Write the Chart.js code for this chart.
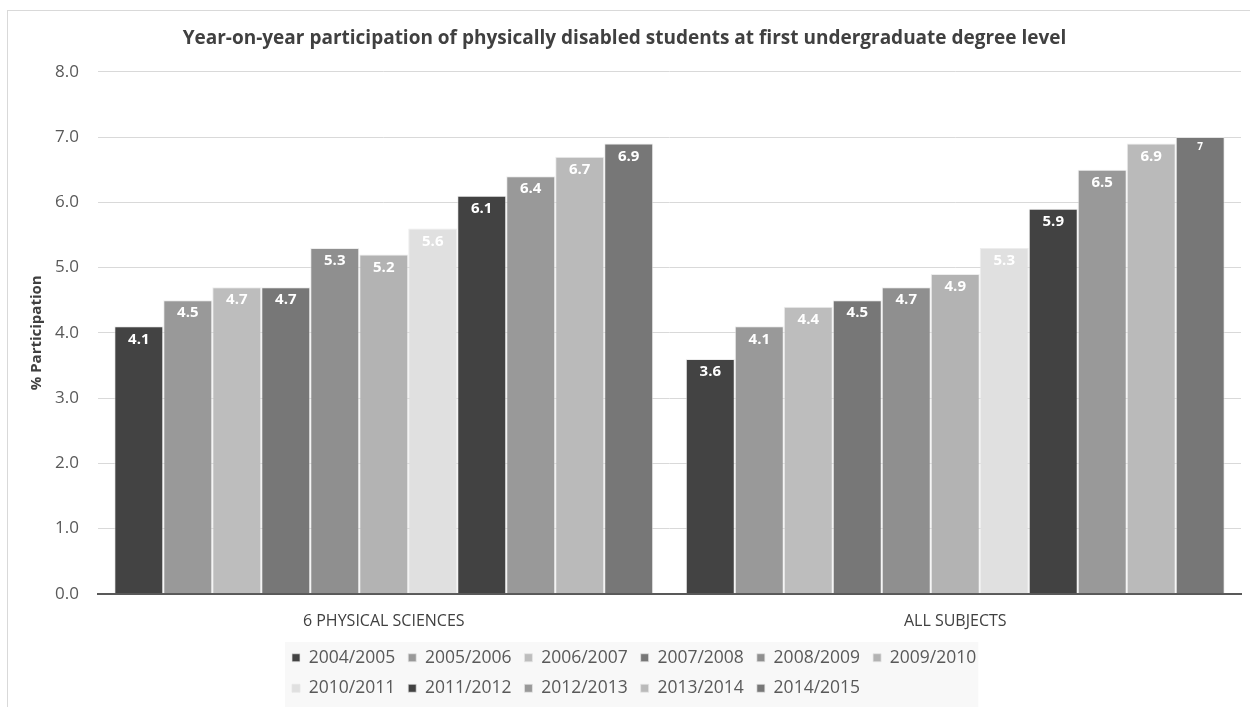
<!DOCTYPE html>
<html>
<head>
<meta charset="utf-8">
<script src="https://cdn.jsdelivr.net/npm/chart.js@4"></script>
<style>
  body { margin: 0; background: #fff; }
  #wrap { width: 1250px; height: 707px; }
</style>
</head>
<body>
<div id="wrap"><canvas id="chart"></canvas></div>
<script>
const categories = ['6 PHYSICAL SCIENCES', 'ALL SUBJECTS'];
const years = ['2004/2005', '2005/2006', '2006/2007', '2007/2008', '2008/2009', '2009/2010',
               '2010/2011', '2011/2012', '2012/2013', '2013/2014', '2014/2015'];
const physicalSciences = [4.1, 4.5, 4.7, 4.7, 5.3, 5.2, 5.6, 6.1, 6.4, 6.7, 6.9];
const allSubjects = [3.6, 4.1, 4.4, 4.5, 4.7, 4.9, 5.3, 5.9, 6.5, 6.9, 7];
const yTicks = [0, 1, 2, 3, 4, 5, 6, 7, 8];
const greys = ['#434343', '#999999', '#bdbdbd', '#777777', '#8f8f8f', '#b3b3b3',
               '#e0e0e0', '#424242', '#999999', '#bababa', '#777777'];

const FONT = "'Open Sans', sans-serif";
const LEGEND_WIDTH = 740;
const LEGEND_LEFT = 279;

// outer frame + legend background, and keep the legend to two rows
const frame = {
    id: 'frame',
    beforeLayout(chart) {
        const lg = chart.legend;
        if (lg && !lg._narrow) {
            const orig = lg.update;
            lg.update = function (maxWidth, maxHeight, margins) {
                return orig.call(this, Math.min(maxWidth, LEGEND_WIDTH), maxHeight, margins);
            };
            lg._narrow = true;
        }
    },
    afterLayout(chart) {
        const lg = chart.legend;
        lg.left = LEGEND_LEFT;
        lg.right = lg.left + LEGEND_WIDTH;
        lg.width = LEGEND_WIDTH;
    },
    beforeDraw(chart) {
        const ctx = chart.ctx;
        ctx.save();
        ctx.strokeStyle = '#d9d9d9';
        ctx.lineWidth = 1;
        ctx.strokeRect(7.5, 10.5, 1260, 720);
        const boxes = chart.legend.legendHitBoxes;
        if (boxes && boxes.length) {
            let l = Infinity, r = -Infinity, t = Infinity;
            boxes.forEach(h => {
                l = Math.min(l, h.left); r = Math.max(r, h.left + h.width);
                t = Math.min(t, h.top);
            });
            ctx.fillStyle = '#f8f8f8';
            ctx.fillRect(l - 7, t - 7, r - l + 9, chart.height - t + 7);
        }
        ctx.restore();
    }
};

// value labels inside the top of each bar
const barLabels = {
    id: 'barLabels',
    afterDatasetsDraw(chart) {
        const ctx = chart.ctx;
        ctx.save();
        ctx.textAlign = 'center';
        ctx.textBaseline = 'middle';
        ctx.fillStyle = '#ffffff';
        chart.data.datasets.forEach((ds, i) => {
            chart.getDatasetMeta(i).data.forEach((bar, j) => {
                const v = ds.data[j];
                const small = Number.isInteger(v);
                ctx.font = (small ? 'bold 10px ' : 'bold 15px ') + FONT;
                ctx.fillText(String(v), bar.x, bar.y + (small ? 10 : 13));
            });
        });
        ctx.restore();
    }
};

const datasets = years.map((y, i) => ({
    label: y,
    data: [physicalSciences[i], allSubjects[i]],
    backgroundColor: greys[i],
    borderColor: 'rgba(230,230,230,0.7)',
    borderWidth: 1,
    categoryPercentage: 0.943,
    barPercentage: 1
}));

new Chart(document.getElementById('chart'), {
    type: 'bar',
    data: { labels: categories, datasets: datasets },
    plugins: [frame, barLabels],
    options: {
        responsive: true,
        maintainAspectRatio: false,
        animation: false,
        layout: { padding: { left: 8, right: 9, top: 10, bottom: 0 } },
        plugins: {
            title: {
                display: true,
                text: 'Year-on-year participation of physically disabled students at first undergraduate degree level',
                color: '#404040',
                font: { family: FONT, size: 19, weight: 'bold' },
                padding: { top: 17, bottom: 22 }
            },
            legend: {
                position: 'bottom',
                align: 'start',
                labels: {
                    color: '#595959',
                    font: { family: FONT, size: 17.5 },
                    boxWidth: 8,
                    boxHeight: 8,
                    padding: 13
                }
            },
            tooltip: { enabled: false }
        },
        scales: {
            x: {
                afterFit: s => { s.height = s.height - 13; },
                grid: { display: false, drawTicks: false },
                border: { color: '#595959', width: 2 },
                ticks: { color: '#404040', font: { family: FONT, size: 16 }, padding: 18 }
            },
            y: {
                min: 0,
                max: 8,
                afterBuildTicks: s => { s.ticks = yTicks.map(v => ({ value: v })); },
                afterFit: s => { s.width = 90; },
                grid: { color: '#d9d9d9', drawTicks: false },
                border: { display: false },
                ticks: {
                    color: '#595959',
                    font: { family: FONT, size: 17 },
                    padding: 19,
                    callback: v => v.toFixed(1)
                },
                title: {
                    display: true,
                    text: '% Participation',
                    color: '#404040',
                    font: { family: FONT, size: 15, weight: 'bold' },
                    padding: { top: 20, bottom: 0 }
                }
            }
        }
    }
});
</script>
</body>
</html>
